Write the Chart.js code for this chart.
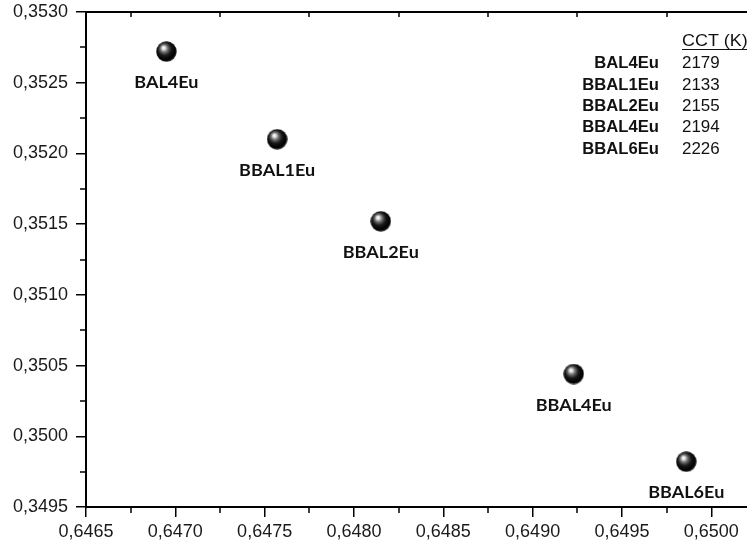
<!DOCTYPE html>
<html>
<head>
<meta charset="utf-8">
<script src="https://cdn.jsdelivr.net/npm/chart.js@4.4.1/dist/chart.umd.min.js"></script>
<style>
  html, body { margin: 0; padding: 0; background: #ffffff; }
  #wrap { width: 747px; height: 549px; position: relative; }
</style>
</head>
<body>
<div id="wrap"><canvas id="cie" width="747" height="549"></canvas></div>
<script>
// Chromaticity coordinates (x, y) of each phosphor sample
const sampleNames = ['BAL4Eu', 'BBAL1Eu', 'BBAL2Eu', 'BBAL4Eu', 'BBAL6Eu'];
const xValues = [0.64695, 0.64757, 0.64815, 0.64923, 0.64986];
const yValues = [0.35272, 0.35210, 0.35152, 0.35044, 0.34982];

// Correlated colour temperature table
const cctHeader = 'CCT (K)';
const cctNames = ['BAL4Eu', 'BBAL1Eu', 'BBAL2Eu', 'BBAL4Eu', 'BBAL6Eu'];
const cctValues = [2179, 2133, 2155, 2194, 2226];

// Axis ticks
const xTicks = [0.6465, 0.6470, 0.6475, 0.6480, 0.6485, 0.6490, 0.6495, 0.6500];
const yTicks = [0.3495, 0.3500, 0.3505, 0.3510, 0.3515, 0.3520, 0.3525, 0.3530];
const xMin = 0.6465, xMax = 0.65020;
const yMin = 0.3495, yMax = 0.3530;

const fmt = v => v.toFixed(4).replace('.', ',');

// Glossy black sphere used as the marker
function makeSphere(d) {
  const c = document.createElement('canvas');
  c.width = d; c.height = d;
  const g = c.getContext('2d');
  const r = d / 2, cx = r, cy = r;
  const grad = g.createRadialGradient(cx - 3, cy - 4, 0, cx - 1, cy - 1.5, r + 1);
  grad.addColorStop(0, '#ffffff');
  grad.addColorStop(0.13, '#e6e6e6');
  grad.addColorStop(0.33, '#6e6e6e');
  grad.addColorStop(0.58, '#181818');
  grad.addColorStop(0.88, '#000000');
  grad.addColorStop(1, '#262626');
  g.fillStyle = grad;
  g.beginPath();
  g.arc(cx, cy, r - 0.3, 0, Math.PI * 2);
  g.fill();
  return c;
}
const sphere = makeSphere(21);

function stretchedText(ctx, text, x, y, align, font, sx) {
  ctx.save();
  ctx.translate(x, y);
  ctx.scale(sx, 1);
  ctx.font = font;
  ctx.textAlign = align;
  ctx.textBaseline = 'middle';
  ctx.fillText(text, 0, 0);
  ctx.restore();
}

// Minor ticks halfway between major ticks
const minorTicks = {
  id: 'minorTicks',
  afterDraw(chart) {
    const ctx = chart.ctx;
    const a = chart.chartArea;
    const xs = chart.scales.x, ys = chart.scales.y;
    ctx.save();
    ctx.strokeStyle = '#000';
    ctx.lineWidth = 1.5;
    ctx.beginPath();
    for (let i = 0; i < xTicks.length - 1; i++) {
      const px = Math.round(xs.getPixelForValue((xTicks[i] + xTicks[i + 1]) / 2));
      ctx.moveTo(px, a.bottom); ctx.lineTo(px, a.bottom + 6);
      ctx.moveTo(px, a.top); ctx.lineTo(px, a.top + 5);
    }
    for (let i = 0; i < yTicks.length - 1; i++) {
      const py = Math.round(ys.getPixelForValue((yTicks[i] + yTicks[i + 1]) / 2));
      ctx.moveTo(a.left - 6, py); ctx.lineTo(a.left, py);
    }
    ctx.stroke();
    ctx.restore();
  }
};

// Sample names under each marker and the CCT table
const annotations = {
  id: 'annotations',
  afterDatasetsDraw(chart) {
    const ctx = chart.ctx;
    ctx.save();
    ctx.fillStyle = '#111';
    const meta = chart.getDatasetMeta(0);
    meta.data.forEach((el, i) => {
      stretchedText(ctx, sampleNames[i], el.x, el.y + 31, 'center', 'bold 17px Lato', 1.06);
    });

    const nameRight = 659, valueLeft = 682, headerY = 42, rowY0 = 64, rowStep = 21.3;
    stretchedText(ctx, cctHeader, valueLeft, headerY, 'left', '16px "Liberation Sans"', 1.12);
    ctx.font = '16px "Liberation Sans"';
    const hw = ctx.measureText(cctHeader).width * 1.12;
    ctx.strokeStyle = '#111';
    ctx.lineWidth = 1.2;
    ctx.beginPath();
    ctx.moveTo(valueLeft, headerY + 7.5);
    ctx.lineTo(valueLeft + hw, headerY + 7.5);
    ctx.stroke();
    cctNames.forEach((n, i) => {
      const y = rowY0 + i * rowStep;
      stretchedText(ctx, n, nameRight, y, 'right', 'bold 16px "Liberation Sans"', 1.04);
      stretchedText(ctx, String(cctValues[i]), valueLeft, y, 'left', '16px "Liberation Sans"', 1.06);
    });
    ctx.restore();
  }
};

const tickFont = { family: '"Liberation Sans", Arial, sans-serif', size: 18 };

new Chart(document.getElementById('cie'), {
  type: 'scatter',
  data: {
    datasets: [{
      data: xValues.map((x, i) => ({ x: x, y: yValues[i] })),
      pointStyle: sphere,
      pointRadius: 10,
      pointHoverRadius: 10
    }]
  },
  options: {
    responsive: false,
    animation: false,
    devicePixelRatio: 1,
    layout: { autoPadding: false, padding: { top: 12, left: 0, right: 0, bottom: 0 } },
    plugins: { legend: { display: false }, tooltip: { enabled: false } },
    scales: {
      x: {
        type: 'linear', position: 'bottom', min: xMin, max: xMax,
        afterBuildTicks: s => { s.ticks = xTicks.map(v => ({ value: v })); },
        afterFit: s => { s.height = 42; s.paddingLeft = 0; s.paddingRight = 0; },
        ticks: { autoSkip: false, maxRotation: 0, padding: 4, color: '#1a1a1a', font: tickFont, callback: v => fmt(v) },
        grid: { drawOnChartArea: false, drawTicks: true, tickLength: 10, color: '#000', lineWidth: 1.5 },
        border: { display: true, color: '#000', width: 2 }
      },
      xTop: {
        type: 'linear', position: 'top', min: xMin, max: xMax,
        afterFit: s => { s.height = 0; s.paddingLeft = 0; s.paddingRight = 0; },
        ticks: { display: false },
        grid: { drawOnChartArea: false, drawTicks: false },
        border: { display: true, color: '#000', width: 2 }
      },
      y: {
        type: 'linear', position: 'left', min: yMin, max: yMax,
        afterBuildTicks: s => { s.ticks = yTicks.map(v => ({ value: v })); },
        afterFit: s => { s.width = 86; s.paddingTop = 0; s.paddingBottom = 0; },
        ticks: { autoSkip: false, padding: 8, color: '#1a1a1a', font: tickFont, callback: v => fmt(v) },
        grid: { drawOnChartArea: false, drawTicks: true, tickLength: 10, color: '#000', lineWidth: 1.5 },
        border: { display: true, color: '#000', width: 2 }
      }
    }
  },
  plugins: [minorTicks, annotations]
});
</script>
</body>
</html>
